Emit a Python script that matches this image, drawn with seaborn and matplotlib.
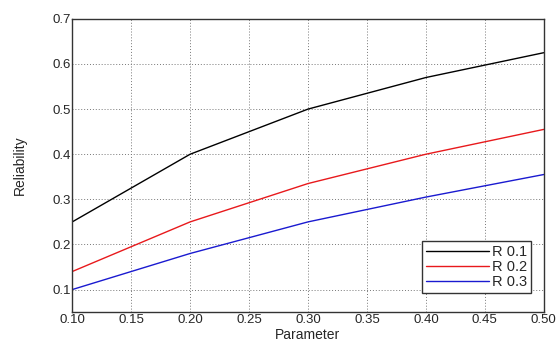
import pandas as pd
import numpy as np
import matplotlib.pyplot as plt
import seaborn as sns

# values
param = [0.10, 0.20, 0.30, 0.40, 0.50]
r01 = [0.25, 0.40, 0.50, 0.57, 0.625]
r02 = [0.14, 0.25, 0.335, 0.40, 0.455]
r03 = [0.10, 0.18, 0.25, 0.305, 0.355]
series_names = ["R 0.1", "R 0.2", "R 0.3"]
series_colors = ["#000000", "#e8191c", "#1a1ad0"]

df = pd.concat([
    pd.DataFrame({"Parameter": param, "Reliability": vals, "series": name})
    for name, vals in zip(series_names, [r01, r02, r03])
])

sns.set_style("white")
plt.rcParams['font.family'] = ['Liberation Sans', 'DejaVu Sans']

fig = plt.figure(figsize=(5.6, 3.43), dpi=100)
ax = fig.add_axes([0.129, 0.090, 0.842, 0.855])

sns.lineplot(data=df, x="Parameter", y="Reliability", hue="series",
             palette=dict(zip(series_names, series_colors)), linewidth=1.0, ax=ax)

ax.set_xlim(0.10, 0.50)
ax.set_ylim(0.05, 0.70)
ax.set_xticks(np.arange(0.10, 0.501, 0.05))
ax.set_yticks(np.arange(0.1, 0.71, 0.1))
ax.set_xticklabels([f"{t:.2f}" for t in np.arange(0.10, 0.501, 0.05)], fontsize=9.5)
ax.set_yticklabels([f"{t:.1f}" for t in np.arange(0.1, 0.71, 0.1)], fontsize=9.5)
ax.tick_params(length=0, pad=1)
ax.grid(True, linestyle=(0, (1, 2)), color="#777777", linewidth=0.7)

for s in ax.spines.values():
    s.set_color("#333333")
    s.set_linewidth(1.0)

ax.set_xlabel("Parameter", fontsize=10, labelpad=2)
ax.set_ylabel("Reliability", fontsize=10, labelpad=18)

leg = ax.legend(loc="lower right", bbox_to_anchor=(0.973, 0.065), fontsize=10.5,
                frameon=True, fancybox=False, handlelength=4.3, handletextpad=0.2,
                borderpad=0.3, labelspacing=0.05, borderaxespad=0)
leg.get_frame().set_edgecolor("#333333")
leg.get_frame().set_linewidth(1.0)
leg.get_frame().set_alpha(1)

fig.savefig("out.png", dpi=100)
